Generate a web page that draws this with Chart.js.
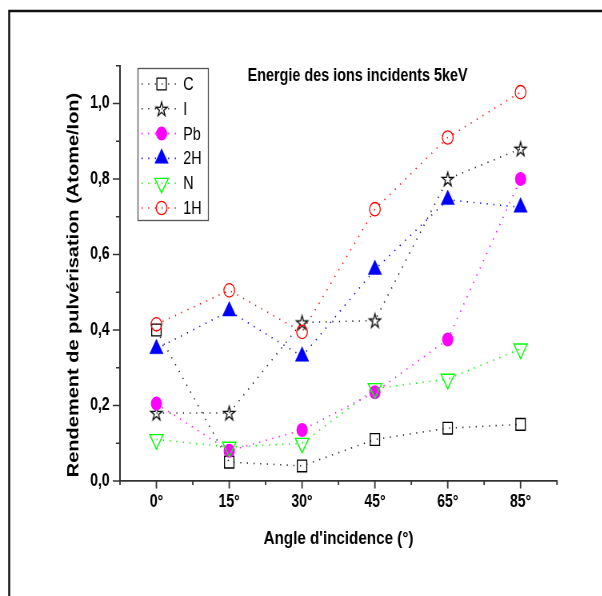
<!DOCTYPE html>
<html><head><meta charset="utf-8">
<script src="https://cdn.jsdelivr.net/npm/chart.js@4/dist/chart.umd.min.js"></script>
<style>
html,body{margin:0;padding:0;background:#fff;overflow:hidden;width:602px;height:596px;}
#wrap{width:753px;height:596px;transform:scaleX(0.8);transform-origin:0 0;}
canvas{display:block;}
</style></head><body>
<div id="wrap"><canvas id="c" width="753" height="596" style="width:753px;height:596px"></canvas></div>
<script>
// ---- data ----
const categories = ['0°', '15°', '30°', '45°', '65°', '85°'];
const seriesNames = ['C', 'I', 'Pb', '2H', 'N', '1H'];
const valuesC  = [0.40, 0.05, 0.04, 0.11, 0.14, 0.15];
const valuesI  = [0.18, 0.18, 0.42, 0.425, 0.80, 0.88];
const valuesPb = [0.205, 0.08, 0.135, 0.235, 0.375, 0.80];
const values2H = [0.35, 0.45, 0.33, 0.56, 0.745, 0.725];
const valuesN  = [0.11, 0.09, 0.10, 0.245, 0.27, 0.35];
const values1H = [0.415, 0.505, 0.395, 0.72, 0.91, 1.03];
const yMin = 0, yMax = 1.1, yStep = 0.1;
const chartTitle = 'Energie des ions incidents 5keV';
const xTitle = "Angle d'incidence (°)";
const yTitle = 'Rendement de pulvérisation (Atome/Ion)';

const FONT = '"Liberation Sans", Arial, Helvetica, sans-serif';

function makeStar(R, color, lw) {
  const s = Math.ceil(R * 2 + lw * 2 + 4);
  const c = document.createElement('canvas');
  c.width = s; c.height = s;
  const g = c.getContext('2d');
  const cx = s / 2, cy = s / 2 + 0.095 * R, r = R * 0.382;
  g.beginPath();
  for (let k = 0; k < 10; k++) {
    const a = -Math.PI / 2 + k * Math.PI / 5;
    const rr = k % 2 ? r : R;
    g.lineTo(cx + rr * Math.cos(a), cy + rr * Math.sin(a));
  }
  g.closePath();
  g.strokeStyle = color; g.lineWidth = lw; g.lineJoin = 'miter';
  g.stroke();
  return c;
}
const starImg = makeStar(7.5, '#000', 1.3);

function toXY(vals) { return categories.map((c, i) => ({x: i, y: vals[i]})); }

const dash = [1.3, 7];
const datasets = [
  {label: seriesNames[0], data: toXY(valuesC), borderColor: '#222', pointStyle: 'rect', pointRadius: 8.3,
   pointBackgroundColor: 'rgba(0,0,0,0)', pointBorderColor: '#000', pointBorderWidth: 1.3, order: 6},
  {label: seriesNames[1], data: toXY(valuesI), borderColor: '#222', pointStyle: starImg, pointRadius: 8,
   pointBackgroundColor: 'rgba(0,0,0,0)', pointBorderColor: '#000', pointBorderWidth: 1.3, order: 5},
  {label: seriesNames[2], data: toXY(valuesPb), borderColor: '#ff00ff', pointStyle: 'circle', pointRadius: 7,
   pointBackgroundColor: '#ff00ff', pointBorderColor: '#ff00ff', pointBorderWidth: 0, order: 4},
  {label: seriesNames[3], data: toXY(values2H), borderColor: '#0000ff', pointStyle: 'triangle', pointRadius: 9.7,
   pointBackgroundColor: '#0000ff', pointBorderColor: '#0000ff', pointBorderWidth: 0.5, order: 3},
  {label: seriesNames[4], data: toXY(valuesN), borderColor: '#00ee00', pointStyle: 'triangle', pointRotation: 180, pointRadius: 9.7,
   pointBackgroundColor: 'rgba(0,0,0,0)', pointBorderColor: '#00ff00', pointBorderWidth: 1.4, order: 2},
  {label: seriesNames[5], data: toXY(values1H), borderColor: '#ff0000', pointStyle: 'circle', pointRadius: 6.7,
   pointBackgroundColor: 'rgba(0,0,0,0)', pointBorderColor: '#ff0000', pointBorderWidth: 1.3, order: 1}
];
datasets.forEach(d => { d.borderWidth = 1.6; d.borderDash = dash; d.fill = false; d.tension = 0; });

const decor = {
  id: 'decor',
  beforeDraw(chart) {
    const ctx = chart.ctx;
    ctx.save();
    ctx.fillStyle = '#fff';
    ctx.fillRect(0, 0, chart.width, chart.height);
    ctx.strokeStyle = '#111';
    ctx.lineWidth = 2.5;
    ctx.strokeRect(11.5, 11, chart.width + 50, chart.height + 50);
    ctx.restore();
  },
  afterDraw(chart) {
    const ctx = chart.ctx;
    const xs = chart.scales.x, ys = chart.scales.y;
    ctx.save();
    ctx.strokeStyle = '#333';
    ctx.lineWidth = 1.8;
    xs.ticks.forEach(t => {
      const px = xs.getPixelForValue(t.value);
      const major = Math.abs(t.value - Math.round(t.value)) < 1e-6;
      ctx.beginPath(); ctx.moveTo(px, xs.top); ctx.lineTo(px, xs.top + (major ? 7.5 : 4)); ctx.stroke();
    });
    ctx.lineWidth = 1.5;
    ys.ticks.forEach(t => {
      const py = ys.getPixelForValue(t.value);
      const major = Math.round(t.value * 10) % 2 === 0;
      ctx.beginPath(); ctx.moveTo(ys.right, py); ctx.lineTo(ys.right - (major ? 9 : 5), py); ctx.stroke();
    });
    // y-axis title
    ctx.fillStyle = '#000';
    ctx.save();
    ctx.translate(92.5, 285);
    ctx.rotate(-Math.PI / 2);
    ctx.font = 'bold 20px ' + FONT;
    ctx.textAlign = 'center'; ctx.textBaseline = 'middle';
    ctx.fillText(yTitle, 0, 0);
    ctx.restore();
    // chart annotation title
    ctx.font = 'bold 18px ' + FONT;
    ctx.textAlign = 'center'; ctx.textBaseline = 'middle';
    ctx.fillText(chartTitle, 447, 76);
    // legend box
    ctx.strokeStyle = '#555'; ctx.lineWidth = 1.3;
    ctx.strokeRect(172.5, 68.5, 88, 152);
    chart.data.datasets.forEach((d, i) => {
      const y = 84 + i * 24.8;
      ctx.save();
      ctx.strokeStyle = d.borderColor; ctx.lineWidth = d.borderWidth; ctx.setLineDash(d.borderDash);
      ctx.beginPath(); ctx.moveTo(177, y); ctx.lineTo(223, y); ctx.stroke();
      ctx.restore();
      ctx.save();
      ctx.fillStyle = d.pointBackgroundColor; ctx.strokeStyle = d.pointBorderColor; ctx.lineWidth = d.pointBorderWidth;
      if (Chart.helpers && Chart.helpers.drawPoint) {
        Chart.helpers.drawPoint(ctx, {pointStyle: d.pointStyle, radius: d.pointRadius, rotation: d.pointRotation || 0, borderWidth: d.pointBorderWidth}, 202, y);
      }
      ctx.restore();
      ctx.fillStyle = '#000';
      ctx.font = '18px ' + FONT;
      ctx.textAlign = 'left'; ctx.textBaseline = 'middle';
      ctx.fillText(d.label, 229, y + 1);
    });
    ctx.restore();
  }
};

new Chart(document.getElementById('c'), {
  type: 'line',
  data: {datasets},
  options: {
    responsive: false,
    animation: false,
    devicePixelRatio: 1,
    layout: {padding: {left: 0, right: 56.75, top: 65.75, bottom: 0}},
    plugins: {legend: {display: false}, tooltip: {enabled: false}},
    scales: {
      x: {
        type: 'linear', position: 'bottom', min: -0.5, max: categories.length - 0.5,
        afterFit(s) { s.height = 115; },
        ticks: {stepSize: 0.5, autoSkip: false, maxRotation: 0, padding: 11, color: '#000',
          font: {family: FONT, size: 17.5, weight: 'bold'},
          callback: v => (Math.abs(v - Math.round(v)) < 1e-6 ? categories[Math.round(v)] : '')},
        grid: {display: false, drawTicks: false, tickLength: 0},
        border: {display: true, color: '#333', width: 1.8},
        title: {display: true, text: xTitle, color: '#000', font: {family: FONT, size: 19, weight: 'bold'},
          padding: {top: 0, bottom: 46}}
      },
      y: {
        type: 'linear', position: 'left', min: yMin, max: yMax,
        afterFit(s) { s.width = 150; },
        ticks: {stepSize: yStep, autoSkip: false, padding: 13, color: '#000',
          font: {family: FONT, size: 17.5, weight: 'bold'},
          callback: v => (Math.round(v * 10) % 2 === 0 ? v.toFixed(1).replace('.', ',') : '')},
        grid: {display: false, drawTicks: false, tickLength: 0},
        border: {display: true, color: '#333', width: 2}
      }
    }
  },
  plugins: [decor]
});
</script>
</body></html>
